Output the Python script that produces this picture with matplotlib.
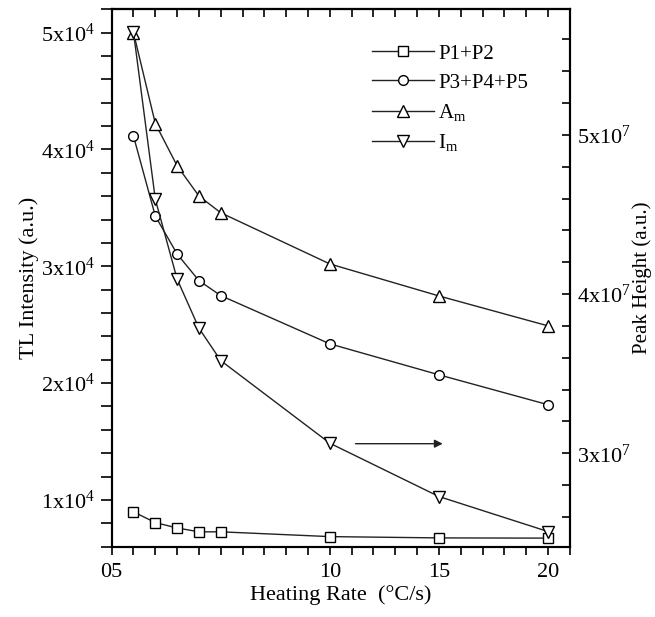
import matplotlib
matplotlib.use('Agg')
import matplotlib.pyplot as plt
from matplotlib.ticker import MultipleLocator, FixedLocator, FixedFormatter

plt.rcParams['font.family'] = ['Liberation Serif', 'DejaVu Serif']
plt.rcParams['mathtext.fontset'] = 'custom'
plt.rcParams['mathtext.rm'] = 'Liberation Serif'
plt.rcParams['mathtext.it'] = 'Liberation Serif'

# data
rate = [1, 2, 3, 4, 5, 10, 15, 20]
p12 = [8980, 8060, 7600, 7270, 7270, 6860, 6750, 6730]
p345 = [41140, 34300, 31050, 28770, 27490, 23360, 20710, 18150]
a_m = [50000, 42220, 38600, 36010, 34580, 30200, 27460, 24900]
i_m = [5.645e7, 4.596e7, 4.094e7, 3.786e7, 3.582e7, 3.063e7, 2.728e7, 2.508e7]

left_ticks = [1e4, 2e4, 3e4, 4e4, 5e4]
left_labels = ['1x10$^4$', '2x10$^4$', '3x10$^4$', '4x10$^4$', '5x10$^4$']
right_ticks = [3e7, 4e7, 5e7]
right_labels = ['3x10$^7$', '4x10$^7$', '5x10$^7$']
x_ticks = [0, 10, 15, 20]
x_labels = ['05', '10', '15', '20']

fig = plt.figure(figsize=(6.55, 6.17), dpi=100)
ax = fig.add_axes([0.1705, 0.114, 0.6995, 0.871])
ax2 = ax.twinx()

lc = '#222222'
kw = dict(color=lc, lw=1.0, markerfacecolor='white', markeredgecolor='black',
          markeredgewidth=1.0)
l1, = ax.plot(rate, p12, marker='s', ms=7, label='P1+P2', **kw)
l2, = ax.plot(rate, p345, marker='o', ms=7, label='P3+P4+P5', **kw)
l3, = ax.plot(rate, a_m, marker='^', ms=9, label='A$_{\\mathrm{m}}$', **kw)
l4, = ax2.plot(rate, i_m, marker='v', ms=9, label='I$_{\\mathrm{m}}$', **kw)
ax2.set_zorder(ax.get_zorder() + 1)
ax2.patch.set_visible(False)

ax.set_xlim(0, 21)
ax.set_ylim(6000, 52000)
ax2.set_ylim(2.413e7, 5.79e7)

ax.xaxis.set_major_locator(FixedLocator(x_ticks))
ax.xaxis.set_major_formatter(FixedFormatter(x_labels))
ax.xaxis.set_minor_locator(MultipleLocator(1))
ax.yaxis.set_major_locator(FixedLocator(left_ticks))
ax.yaxis.set_major_formatter(FixedFormatter(left_labels))
ax.yaxis.set_minor_locator(MultipleLocator(2000))
ax2.yaxis.set_major_locator(FixedLocator(right_ticks))
ax2.yaxis.set_major_formatter(FixedFormatter(right_labels))
ax2.yaxis.set_minor_locator(MultipleLocator(2e6))

ax.tick_params(axis='x', which='both', direction='out', length=6, width=1.2,
               labelsize=16, pad=6)
ax.tick_params(axis='y', which='both', direction='out', length=8, width=1.2,
               labelsize=16, pad=4, right=False)
ax2.tick_params(axis='y', which='both', direction='in', length=6, width=1.2,
                labelsize=16, pad=5)

top = ax.secondary_xaxis('top')
top.xaxis.set_major_locator(MultipleLocator(1))
top.tick_params(direction='in', length=6, width=1.2, labeltop=False)

for a in (ax, ax2):
    for s in a.spines.values():
        s.set_linewidth(1.5)
for s in top.spines.values():
    s.set_linewidth(1.5)

ax.set_xlabel('Heating Rate  (°C/s)', fontsize=16, labelpad=2)
ax.set_ylabel('TL Intensity (a.u.)', fontsize=16, labelpad=1)
ax2.set_ylabel('Peak Height (a.u.)', fontsize=15, rotation=90, labelpad=1)

ax2.annotate('', xy=(15.3, 3.06e7), xytext=(11.05, 3.06e7),
             arrowprops=dict(arrowstyle='-|>', color=lc, lw=1.0,
                             mutation_scale=12))

ax.legend(handles=[l1, l2, l3, l4], loc='upper right', frameon=False,
          fontsize=15, handlelength=3.0, handletextpad=0.2,
          labelspacing=0.45, bbox_to_anchor=(0.95, 0.97))

fig.savefig('out.png', dpi=100)
